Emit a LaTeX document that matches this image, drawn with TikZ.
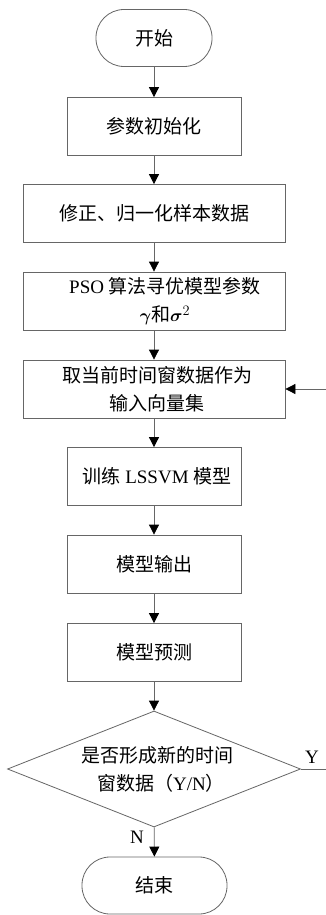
\documentclass[tikz,border=0pt]{standalone}
\usepackage{amsmath}
\usepackage{bm}
\usepackage{fontspec}
\setmainfont{Liberation Serif}
\newfontfamily\cjk{Noto Sans CJK SC}
\usetikzlibrary{arrows.meta,shapes.geometric}
\newcommand{\zhs}[1]{{\cjk #1}}
\begin{document}
\begin{tikzpicture}[x=1pt,y=1pt,
  lbl/.style={font=\fontsize{19}{28}\selectfont, align=center, inner sep=0pt},
  term/.style={lbl, draw=black!60, line width=0.8pt, rounded corners=28pt, minimum height=57pt},
  proc/.style={lbl, draw=black!60, line width=0.8pt, rectangle, minimum height=58pt},
  dec/.style={lbl, draw=black!60, line width=0.8pt, diamond, aspect=2.53, minimum width=293pt, minimum height=116pt},
  arr/.style={draw=black!60, line width=0.8pt, -{Triangle[length=10pt,width=10pt,color=black]}},
  ln/.style={draw=black!60, line width=0.8pt}]
\useasboundingbox (0,0) rectangle (326,-915);
\fill[white] (0,0) rectangle (326,-915);
\node[term, minimum width=116pt] (start) at (154,-38) {\zhs{开始}};
\node[proc, minimum width=174pt] (b1) at (154,-126.5) {\zhs{参数初始化}};
\node[proc, minimum width=262pt] (b2) at (154,-213.5) {\zhs{修正、归一化样本数据}};
\node[proc, minimum width=262pt] (b3) at (154,-301) {\hspace*{22pt}PSO \zhs{算法寻优模型参数}\\\hspace*{22pt}$\bm{\gamma}$\zhs{和}$\bm{\sigma}^2$};
\node[proc, minimum width=262pt] (b4) at (154,-389) {\hspace*{6pt}\zhs{取当前时间窗数据作为}\\\hspace*{6pt}\zhs{输入向量集}};
\node[proc, minimum width=174pt] (b5) at (154,-476.5) {\hspace*{6pt}\zhs{训练} LSSVM \zhs{模型}};
\node[proc, minimum width=174pt] (b6) at (154,-564) {\zhs{模型输出}};
\node[proc, minimum width=174pt] (b7) at (154,-652.5) {\zhs{模型预测}};
\node[dec] (d) at (154,-769) {\hspace*{6pt}\zhs{是否形成新的时间}\\\hspace*{14pt}\zhs{窗数据（}Y/N\zhs{）}};
\node[term, minimum width=145pt] (end) at (154.5,-885.5) {\zhs{结束}};
\coordinate (ye) at (326,-769);
\coordinate (ri) at (326,-389);
\draw[arr] (start) -- (b1);
\draw[arr] (b1) -- (b2);
\draw[arr] (b2) -- (b3);
\draw[arr] (b3) -- (b4);
\draw[arr] (b4) -- (b5);
\draw[arr] (b5) -- (b6);
\draw[arr] (b6) -- (b7);
\draw[arr] (b7) -- (d);
\draw[arr] (d) -- (end);
\draw[ln] (d.east) -- (ye);
\draw[arr] (ri) -- (b4.east);
\node[font=\fontsize{19}{20}\selectfont, inner sep=0pt] (ylab) at (312,-757) {Y};
\node[font=\fontsize{19}{20}\selectfont, inner sep=0pt] (nlab) at (137,-837) {N};
\end{tikzpicture}
\end{document}
